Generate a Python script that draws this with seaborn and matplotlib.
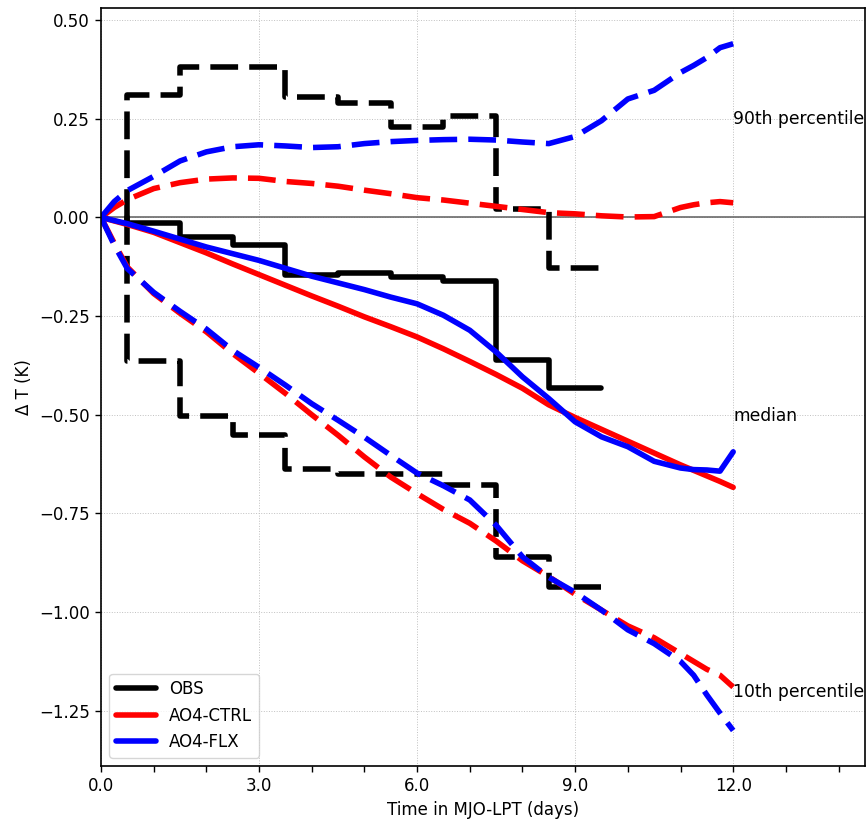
import matplotlib
matplotlib.use('Agg')
import matplotlib.pyplot as plt
import matplotlib.ticker as mticker
import pandas as pd
import seaborn as sns

# OBS step edges (days) and values
obs_x = [0.5, 1.5, 2.5, 3.5, 4.5, 5.5, 6.5, 7.5, 8.5, 9.5]
obs_p90 = [0.0, 0.31, 0.382, 0.382, 0.305, 0.291, 0.228, 0.256, 0.02, -0.129]
obs_med = [0.0, -0.015, -0.05, -0.07, -0.147, -0.142, -0.152, -0.162, -0.362, -0.433]
obs_p10 = [0.0, -0.365, -0.504, -0.552, -0.638, -0.65, -0.65, -0.678, -0.86, -0.937]

# model curves (days)
days = [0, 0.25, 0.5, 1, 1.5, 2, 2.5, 3, 3.5, 4, 4.5, 5, 5.5, 6, 6.5, 7,
        7.5, 8, 8.5, 9, 9.5, 10, 10.5, 11, 11.25, 11.5, 11.75, 12]

ctrl_p90 = [0, 0.025, 0.045, 0.073, 0.088, 0.097, 0.100, 0.099, 0.091, 0.086,
            0.079, 0.069, 0.060, 0.050, 0.044, 0.036, 0.028, 0.020, 0.012, 0.009,
            0.004, 0.001, 0.002, 0.025, 0.032, 0.037, 0.040, 0.037]
ctrl_med = [0, -0.009, -0.018, -0.038, -0.064, -0.090, -0.118, -0.145, -0.172, -0.199,
            -0.225, -0.252, -0.277, -0.303, -0.333, -0.365, -0.398, -0.433, -0.475, -0.507,
            -0.537, -0.567, -0.597, -0.627, -0.641, -0.655, -0.669, -0.684]
ctrl_p10 = [0, -0.065, -0.126, -0.193, -0.243, -0.290, -0.345, -0.395, -0.446, -0.500,
            -0.552, -0.607, -0.658, -0.700, -0.740, -0.775, -0.820, -0.870, -0.910, -0.955,
            -0.995, -1.035, -1.065, -1.105, -1.125, -1.145, -1.160, -1.190]

flx_p90 = [0, 0.040, 0.068, 0.104, 0.143, 0.166, 0.179, 0.184, 0.181, 0.177,
           0.179, 0.187, 0.192, 0.195, 0.197, 0.198, 0.196, 0.191, 0.187, 0.205,
           0.245, 0.300, 0.322, 0.367, 0.385, 0.405, 0.430, 0.440]
flx_med = [0, -0.008, -0.016, -0.035, -0.055, -0.075, -0.092, -0.109, -0.129, -0.149,
           -0.166, -0.183, -0.202, -0.219, -0.248, -0.286, -0.341, -0.404, -0.459, -0.518,
           -0.556, -0.581, -0.618, -0.635, -0.639, -0.640, -0.643, -0.594]
flx_p10 = [0, -0.070, -0.130, -0.190, -0.238, -0.283, -0.337, -0.380, -0.425, -0.472,
           -0.514, -0.557, -0.603, -0.648, -0.680, -0.716, -0.780, -0.860, -0.912, -0.950,
           -0.995, -1.045, -1.080, -1.125, -1.160, -1.210, -1.256, -1.300]

sns.set_style('ticks', {'text.color': 'black', 'axes.labelcolor': 'black',
                        'xtick.color': 'black', 'ytick.color': 'black',
                        'axes.edgecolor': 'black'})
plt.rcParams['font.family'] = ['DejaVu Sans']

fig = plt.figure(figsize=(8.68, 8.21), dpi=100)
ax = fig.add_axes([0.1164, 0.067, 0.880, 0.923])

ax.axhline(0, color='dimgray', lw=1.2, zorder=1.5)

dash = (0, (5, 2))

# OBS
sns.lineplot(x=obs_x, y=obs_p90, color='black', lw=4, ls=dash, drawstyle='steps-pre', label='_nolegend_', ax=ax)
sns.lineplot(x=obs_x, y=obs_med, color='black', lw=4, drawstyle='steps-pre', label='OBS', ax=ax)
sns.lineplot(x=obs_x, y=obs_p10, color='black', lw=4, ls=dash, drawstyle='steps-pre', label='_nolegend_', ax=ax)

# AO4-CTRL
sns.lineplot(x=days, y=ctrl_p90, color='red', lw=4, ls=dash, label='_nolegend_', ax=ax)
sns.lineplot(x=days, y=ctrl_med, color='red', lw=4, label='AO4-CTRL', ax=ax)
sns.lineplot(x=days, y=ctrl_p10, color='red', lw=4, ls=dash, label='_nolegend_', ax=ax)

# AO4-FLX
sns.lineplot(x=days, y=flx_p90, color='blue', lw=4, ls=dash, label='_nolegend_', ax=ax)
sns.lineplot(x=days, y=flx_med, color='blue', lw=4, label='AO4-FLX', ax=ax)
sns.lineplot(x=days, y=flx_p10, color='blue', lw=4, ls=dash, label='_nolegend_', ax=ax)

ax.text(12, 0.25, '90th percentile', fontsize=12.3, color='black', va='center', ha='left', clip_on=False)
ax.text(12, -0.504, 'median', fontsize=12.3, color='black', va='center', ha='left', clip_on=False)
ax.text(12, -1.203, '10th percentile', fontsize=12.3, color='black', va='center', ha='left', clip_on=False)

ax.set_xlim(0, 14.5)
ax.set_ylim(-1.39, 0.53)
ax.xaxis.set_major_locator(mticker.MultipleLocator(3))
ax.xaxis.set_minor_locator(mticker.MultipleLocator(1))
ax.xaxis.set_major_formatter(mticker.FuncFormatter(lambda v, p: f'{v:.1f}'))
ax.yaxis.set_major_locator(mticker.MultipleLocator(0.25))
ax.tick_params(axis='both', which='both', direction='out', length=4.5, width=1,
               labelsize=12, color='black', labelcolor='black')
ax.tick_params(axis='y', which='minor', length=0)
ax.grid(True, which='major', ls=':', lw=0.7, color='#c0c0c0')
for s in ax.spines.values():
    s.set_linewidth(1.2)
    s.set_color('black')

ax.set_xlabel('Time in MJO-LPT (days)', fontsize=12, color='black')
ax.set_ylabel('Δ T (K)', fontsize=12, color='black')
leg = ax.legend(loc='lower left', fontsize=12, handlelength=2.4)
for t in leg.get_texts():
    t.set_color('black')

fig.savefig('out.png', dpi=100)
